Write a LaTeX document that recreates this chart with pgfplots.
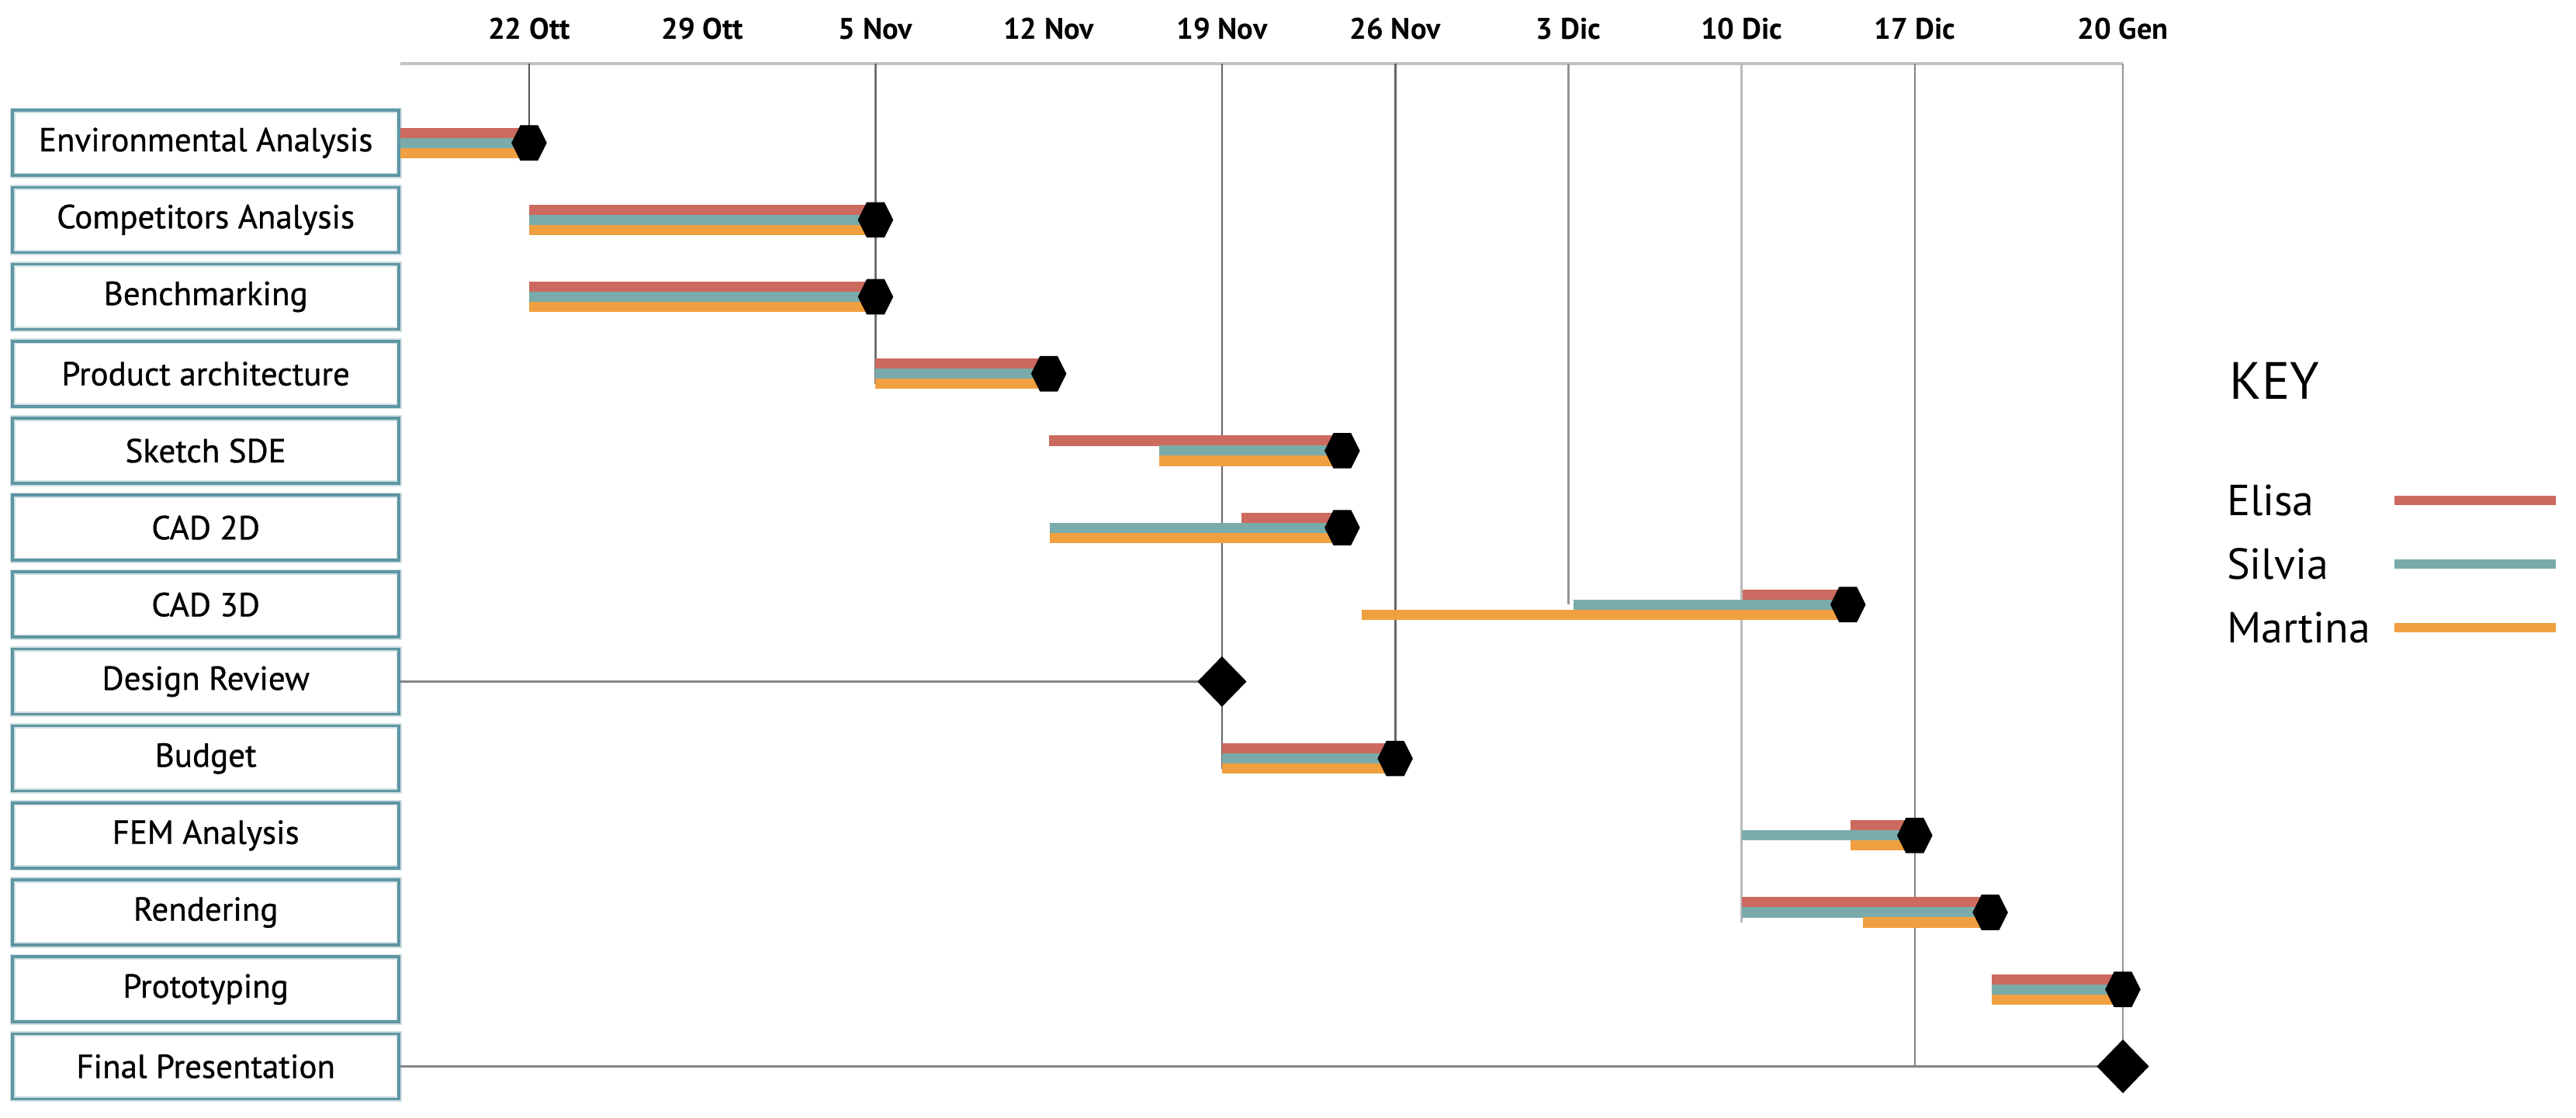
\documentclass[border=0pt]{standalone}
\usepackage{fontspec}
\setmainfont{PT Sans}
\newfontfamily\labfont[FakeBold=0.8]{PT Sans}
\usepackage{pgfplots}
\pgfplotsset{compat=1.18}
\definecolor{elisa}{HTML}{CC6A5F}
\definecolor{silvia}{HTML}{7AABAB}
\definecolor{martina}{HTML}{F0A040}
\definecolor{boxcol}{HTML}{5E96A3}
\pgfdeclareplotmark{hexa}{%
 \pgfpathmoveto{\pgfqpoint{\pgfplotmarksize}{0pt}}%
 \pgfpathlineto{\pgfqpoint{0.5\pgfplotmarksize}{\pgfplotmarksize}}%
 \pgfpathlineto{\pgfqpoint{-0.5\pgfplotmarksize}{\pgfplotmarksize}}%
 \pgfpathlineto{\pgfqpoint{-\pgfplotmarksize}{0pt}}%
 \pgfpathlineto{\pgfqpoint{-0.5\pgfplotmarksize}{-\pgfplotmarksize}}%
 \pgfpathlineto{\pgfqpoint{0.5\pgfplotmarksize}{-\pgfplotmarksize}}%
 \pgfpathclose\pgfusepathqfill}
\pgfdeclareplotmark{dia}{%
 \pgfpathmoveto{\pgfqpoint{0pt}{1.03\pgfplotmarksize}}%
 \pgfpathlineto{\pgfqpoint{\pgfplotmarksize}{0pt}}%
 \pgfpathlineto{\pgfqpoint{0pt}{-1.03\pgfplotmarksize}}%
 \pgfpathlineto{\pgfqpoint{-\pgfplotmarksize}{0pt}}%
 \pgfpathclose\pgfusepathqfill}
\begin{document}
\begin{tikzpicture}
\begin{axis}[
  at={(129pt,4.0pt)}, anchor=south west,
  scale only axis, width=555pt, height=335.5pt,
  xmin=-5.205, xmax=64.41, ymin=-13.5, ymax=0.03,
  clip=false,
  axis line style={draw=none},
  tick style={draw=none}, major tick length=0pt,
  xtick={0,7,14,21,28,35,42,49,56,64.41},
  xticklabels={22 Ott,29 Ott,5 Nov,12 Nov,19 Nov,26 Nov,3 Dic,10 Dic,17 Dic,20 Gen},
  xticklabel pos=upper,
  xticklabel style={font=\bfseries\fontsize{9.6}{11}\selectfont, inner sep=0pt, anchor=south, yshift=7.5pt},
  ytick={-13,-12,-11,-10,-9,-8,-7,-6,-5,-4,-3,-2,-1},
  yticklabels={Final Presentation,Prototyping,Rendering,FEM Analysis,Budget,Design Review,CAD 3D,CAD 2D,Sketch SDE,Product architecture,Benchmarking,Competitors Analysis,Environmental Analysis},
  yticklabel style={font=\labfont\fontsize{10.75}{12}\selectfont, draw=boxcol, line width=0.9pt,
     preaction={draw=boxcol!30, line width=1.8pt},
     minimum width=124.5pt, minimum height=21pt, inner sep=0pt, anchor=east, text=black},
  legend style={at={(axis description cs:1.06,0.596)}, anchor=north west, draw=none, fill=none,
     font=\fontsize{14}{16}\selectfont, row sep=10.5pt, column sep=6pt, inner sep=0pt,
     nodes={inner sep=0pt, text height=10pt, text depth=0pt}},
  legend cell align=left, legend plot pos=right,
  legend image code/.code={\draw[#1, line width=3.2pt] (0pt,0pt) -- (52pt,0pt);},
  unbounded coords=jump,
]
% top line
\addplot[color=black!24, line width=1.1pt, forget plot] coordinates {(-5.205,0.03) (64.41,0.03)};
% vertical date lines
\addplot[color=black!67, line width=0.7pt, forget plot] coordinates {(0,0.03) (0,-1)};
\addplot[color=black!55, line width=0.7pt, forget plot] coordinates {(14,0.03) (14,-4.13)};
\addplot[color=black!60, line width=0.7pt, forget plot] coordinates {(28,0.03) (28,-9.13)};
\addplot[color=black!60, line width=0.7pt, forget plot] coordinates {(35,0.03) (35,-9)};
\addplot[color=black!42, line width=0.6pt, forget plot] coordinates {(42,0.03) (42,-7)};
\addplot[color=black!27, line width=0.8pt, forget plot] coordinates {(49,0.03) (49,-11.13)};
\addplot[color=black!48, line width=0.6pt, forget plot] coordinates {(56,0.03) (56,-13)};
\addplot[color=black!42, line width=0.6pt, forget plot] coordinates {(64.41,0.03) (64.41,-13)};
% connectors
\addplot[color=black!48, line width=0.8pt, forget plot] coordinates {(-5.205,-8) (28,-8)};
\addplot[color=black!48, line width=0.9pt, forget plot] coordinates {(-5.205,-13) (64.41,-13)};
% Elisa
\addplot[color=elisa, line width=3.3pt, forget plot] coordinates {
(-5.205,-0.869) (0,-0.869) (0,nan)
(0,-1.869) (14,-1.869) (0,nan)
(0,-2.869) (14,-2.869) (0,nan)
(14,-3.869) (21,-3.869) (0,nan)
(21,-4.869) (32.86,-4.869) (0,nan)
(28.8,-5.869) (32.86,-5.869) (0,nan)
(49.05,-6.869) (53.3,-6.869) (0,nan)
(28,-8.869) (35,-8.869) (0,nan)
(53.4,-9.869) (56,-9.869) (0,nan)
(49,-10.869) (59.05,-10.869) (0,nan)
(59.1,-11.869) (64.41,-11.869)
};
% Silvia
\addplot[color=silvia, line width=3.3pt, forget plot] coordinates {
(-5.205,-1) (0,-1) (0,nan)
(0,-2) (14,-2) (0,nan)
(0,-3) (14,-3) (0,nan)
(14,-4) (21,-4) (0,nan)
(25.45,-5) (32.86,-5) (0,nan)
(21.05,-6) (32.86,-6) (0,nan)
(42.2,-7) (53.3,-7) (0,nan)
(28,-9) (35,-9) (0,nan)
(49,-10) (56,-10) (0,nan)
(49,-11) (59.05,-11) (0,nan)
(59.1,-12) (64.41,-12)
};
% Martina
\addplot[color=martina, line width=3.3pt, forget plot] coordinates {
(-5.205,-1.131) (0,-1.131) (0,nan)
(0,-2.131) (14,-2.131) (0,nan)
(0,-3.131) (14,-3.131) (0,nan)
(14,-4.131) (21,-4.131) (0,nan)
(25.45,-5.131) (32.86,-5.131) (0,nan)
(21.05,-6.131) (32.86,-6.131) (0,nan)
(33.65,-7.131) (53.3,-7.131) (0,nan)
(28,-9.131) (35,-9.131) (0,nan)
(53.4,-10.131) (56,-10.131) (0,nan)
(53.9,-11.131) (59.05,-11.131) (0,nan)
(59.1,-12.131) (64.41,-12.131)
};
% milestones
\addplot[only marks, color=black, mark=hexa, mark size=5.7pt, forget plot] coordinates {
(0,-1) (14,-2) (14,-3) (21,-4) (32.86,-5) (32.86,-6) (53.3,-7) (35,-9) (56,-10) (59.05,-11) (64.41,-12)};
\addplot[only marks, color=black, mark=dia, mark size=7.9pt, forget plot] coordinates {(28,-8)};
\addplot[only marks, color=black, mark=dia, mark size=8.4pt, forget plot] coordinates {(64.41,-13)};
% legend
\addlegendimage{color=elisa}
\addlegendentry{Elisa}
\addlegendimage{color=silvia}
\addlegendentry{Silvia}
\addlegendimage{color=martina}
\addlegendentry{Martina}
\end{axis}
\node[anchor=west, inner sep=0pt, font=\fontsize{16.9}{18}\selectfont] at (718.25pt,237.25pt) {KEY};
\pgfresetboundingbox
\useasboundingbox (0,0) rectangle (830pt,360pt);
\end{tikzpicture}
\end{document}
